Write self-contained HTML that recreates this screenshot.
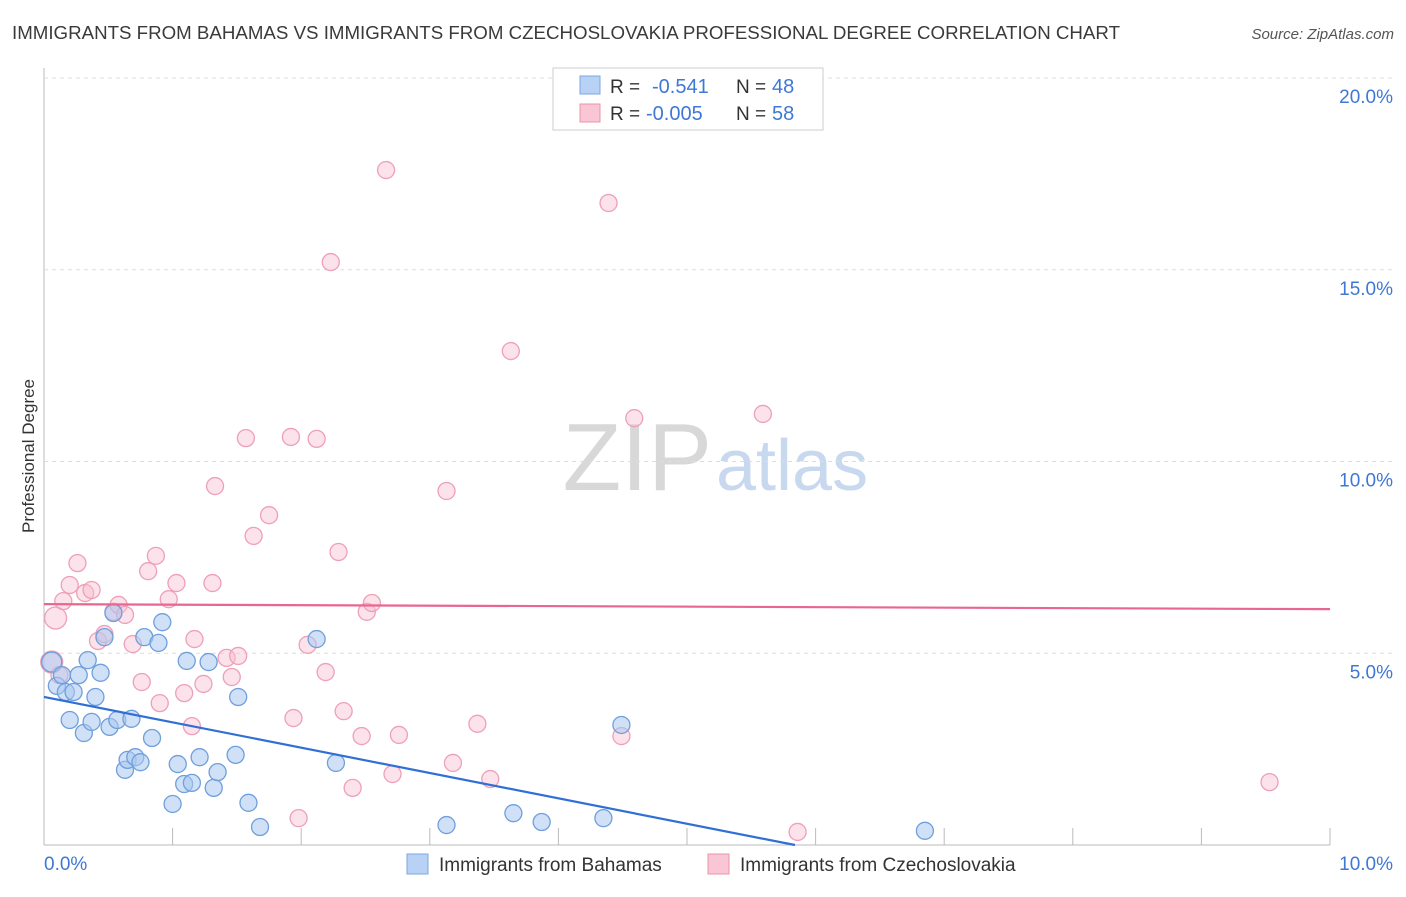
<!DOCTYPE html>
<html><head><meta charset="utf-8"><style>
body{margin:0;background:#fff;font-family:"Liberation Sans",sans-serif;}
svg text{font-family:"Liberation Sans",sans-serif;}
</style></head><body>
<svg id="chart" width="1406" height="892">
<text x="12" y="39" font-size="18" fill="#3a3a3a" textLength="1108" lengthAdjust="spacingAndGlyphs">IMMIGRANTS FROM BAHAMAS VS IMMIGRANTS FROM CZECHOSLOVAKIA PROFESSIONAL DEGREE CORRELATION CHART</text>
<text x="1394" y="39" font-size="15" fill="#555" text-anchor="end" font-style="italic">Source: ZipAtlas.com</text>
<text x="34" y="456" font-size="17" fill="#333" text-anchor="middle" transform="rotate(-90 34 456)">Professional Degree</text>
<text x="712" y="490" font-size="96" fill="#d8d8d8" text-anchor="end" font-family="Liberation Serif">ZIP</text>
<text x="716" y="490" font-size="72" fill="#c8d8ee">atlas</text>
<g id="grid"></g><g id="pts"></g><g id="lines"></g>
<g>
<rect x="553" y="68" width="270" height="62" fill="#fff" stroke="#ccc"/>
<rect x="580" y="76" width="20" height="18" fill="#b8d2f5" stroke="#7ba7e0"/>
<text x="610" y="93" font-size="19" fill="#333">R =</text><text x="652" y="93" font-size="20" fill="#3f78d4">-0.541</text>
<text x="736" y="93" font-size="19" fill="#333">N =</text><text x="772" y="93" font-size="20" fill="#3f78d4">48</text>
<rect x="580" y="104" width="20" height="18" fill="#f8c6d4" stroke="#eb93ad"/>
<text x="610" y="120" font-size="19" fill="#333">R =</text><text x="646" y="120" font-size="20" fill="#3f78d4">-0.005</text>
<text x="736" y="120" font-size="19" fill="#333">N =</text><text x="772" y="120" font-size="20" fill="#3f78d4">58</text>
</g>
<g>
<rect x="407" y="854" width="21" height="20" fill="#b8d2f5" stroke="#7ba7e0"/>
<text x="439" y="871" font-size="19" fill="#333">Immigrants from Bahamas</text>
<rect x="708" y="854" width="21" height="20" fill="#f8c6d4" stroke="#eb93ad"/>
<text x="740" y="871" font-size="19" fill="#333">Immigrants from Czechoslovakia</text>
</g>
</svg>
<script>
const blueX=[0.06,0.10,0.14,0.17,0.20,0.23,0.27,0.31,0.34,0.37,0.40,0.44,0.47,0.51,0.54,0.57,0.63,0.65,0.68,0.71,0.75,0.78,0.84,0.89,0.92,1.00,1.04,1.09,1.11,1.15,1.21,1.28,1.32,1.35,1.49,1.51,1.59,1.68,2.12,2.27,3.13,3.65,3.87,4.35,4.49,6.85];
const blueY=[4.77,4.15,4.43,3.99,3.26,3.99,4.43,2.92,4.82,3.21,3.86,4.49,5.42,3.08,6.05,3.26,1.96,2.22,3.29,2.29,2.16,5.42,2.79,5.27,5.81,1.07,2.11,1.59,4.80,1.62,2.29,4.77,1.49,1.90,2.35,3.86,1.10,0.47,5.37,2.14,0.52,0.83,0.60,0.70,3.13,0.37];
const pinkX=[0.06,0.09,0.12,0.15,0.20,0.26,0.32,0.37,0.42,0.47,0.54,0.58,0.63,0.69,0.76,0.81,0.87,0.90,0.97,1.03,1.09,1.17,1.15,1.24,1.31,1.33,1.42,1.46,1.51,1.57,1.63,1.75,1.94,1.92,1.98,2.05,2.12,2.19,2.23,2.29,2.33,2.40,2.47,2.51,2.55,2.66,2.71,2.76,3.13,3.18,3.37,3.47,3.63,4.39,4.49,4.59,5.59,5.86,9.53];
const pinkY=[4.77,5.92,4.43,6.36,6.78,7.35,6.57,6.65,5.32,5.50,6.08,6.26,6.00,5.24,4.25,7.14,7.54,3.70,6.41,6.83,3.96,5.37,3.10,4.20,6.83,9.36,4.88,4.38,4.93,10.61,8.06,8.60,3.31,10.64,0.70,5.22,10.59,4.51,15.20,7.64,3.49,1.49,2.84,6.08,6.31,17.60,1.85,2.87,9.23,2.14,3.16,1.72,12.88,16.74,2.84,11.13,11.24,0.34,1.64];
const yTicks=[5,10,15,20];
const xTickLabels=["0.0%","10.0%"];
const blueTrend=[3.86,-0.661];
const pinkTrend=[6.28,-0.013];
const NS="http://www.w3.org/2000/svg";
const sx=v=>44+v*128.6, sy=v=>845-v*38.35;
function mk(p,t,a){const e=document.createElementNS(NS,t);for(const k in a)e.setAttribute(k,a[k]);p.appendChild(e);return e;}
const g=document.getElementById('grid');
const ax=mk(g,'line',{x1:44,y1:68,x2:44,y2:845,stroke:'#bbb'});


const bx=mk(g,'line',{x1:44,y1:845,x2:1330,y2:845,stroke:'#bbb'});


yTicks.forEach(v=>{
 const l=mk(g,'line',{x1:44,y1:sy(v),x2:1394,y2:sy(v),stroke:'#ddd','stroke-dasharray':'4,4'});
 
 
 const t=mk(g,'text',{x:1393,y:sy(v)+25,'font-size':19,fill:'#3f78d4','text-anchor':'end'});
 t.textContent=v.toFixed(1)+'%';
 
 
});
for(let i=0;i<=10;i++){
 const l=mk(g,'line',{x1:sx(i),y1:828,x2:sx(i),y2:845,stroke:'#bbb'});
 
 
}
xTickLabels.forEach((s,i)=>{
 const t=mk(g,'text',{x:i?1393:44,y:870,'font-size':19,fill:'#3f78d4','text-anchor':i?'end':'start'});
 t.textContent=s;
 
 
});
const P=document.getElementById('pts');
function pts(X,Y,fill,stroke,name){X.forEach((x,i)=>{
 const r=i<2&&name==='pink-point'?11:(i===0?10:8.5);
 const c=mk(P,'circle',{cx:sx(x),cy:sy(Y[i]),r:r,fill:fill,stroke:stroke,'stroke-width':1.3});
 
 
});}
pts(pinkX,pinkY,'rgba(248,190,208,0.45)','#eea0b8','pink-point');
pts(blueX,blueY,'rgba(170,200,240,0.55)','#6f9fdc','blue-point');
const L=document.getElementById('lines');
const bEnd=-blueTrend[0]/blueTrend[1];
const bl=mk(L,'line',{x1:sx(0),y1:sy(blueTrend[0]),x2:sx(bEnd),y2:sy(0),stroke:'#2f6fd6','stroke-width':2.2});


const pl=mk(L,'line',{x1:sx(0),y1:sy(pinkTrend[0]),x2:sx(10),y2:sy(pinkTrend[0]+pinkTrend[1]*10),stroke:'#e8668f','stroke-width':2.2});


</script>
</body></html>
